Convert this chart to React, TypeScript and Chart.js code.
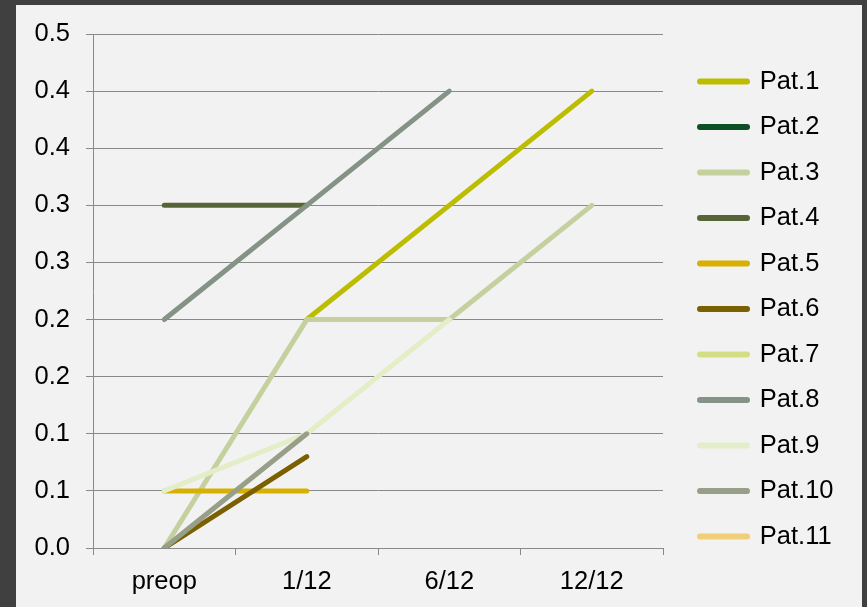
import React, { useEffect, useRef } from "react";
import { Chart, registerables } from "chart.js";

Chart.register(...registerables);

const categories = ["preop", "1/12", "6/12", "12/12"];

const seriesNames = ["Pat.1", "Pat.2", "Pat.3", "Pat.4", "Pat.5", "Pat.6", "Pat.7", "Pat.8", "Pat.9", "Pat.10", "Pat.11"];

const seriesColors = [
  "#bcbd00",
  "#0d4f25",
  "#c4d19f",
  "#566538",
  "#d8b000",
  "#7a6000",
  "#d6de85",
  "#849386",
  "#e3edc8",
  "#979f88",
  "#efcf7a",
];

const pat1 = [null, 0.2, 0.3, 0.4];
const pat2 = [null, null, null, null];
const pat3 = [0, 0.2, 0.2, 0.3];
const pat4 = [0.3, 0.3, null, null];
const pat5 = [0.05, 0.05, null, null];
const pat6 = [0, 0.08, null, null];
const pat7 = [null, null, null, null];
const pat8 = [0.2, 0.3, 0.4, null];
const pat9 = [0.05, 0.1, 0.2, null];
const pat10 = [0, 0.1, null, null];
const pat11 = [null, null, null, null];

const seriesValues = [pat1, pat2, pat3, pat4, pat5, pat6, pat7, pat8, pat9, pat10, pat11];

const yTickValues = [0, 0.05, 0.1, 0.15, 0.2, 0.25, 0.3, 0.35, 0.4, 0.45];
const yTickLabels = ["0.0", "0.1", "0.1", "0.2", "0.2", "0.3", "0.3", "0.4", "0.4", "0.5"];

const FONT = { family: "'Liberation Sans', Arial, sans-serif", size: 25.5 };
const GRID = "#898989";
const LEGEND_SHIFT = 17;

const shiftLegend = {
  id: "shiftLegend",
  afterLayout(chart: any) {
    const lg = chart.legend;
    if (lg) {
      lg.left += LEGEND_SHIFT;
      lg.right += LEGEND_SHIFT;
    }
  },
};

export default function App() {
  const ref = useRef<HTMLCanvasElement>(null);

  useEffect(() => {
    if (!ref.current) return;
    const n = seriesNames.length;
    const chart = new Chart(ref.current, {
      type: "line",
      data: {
        labels: categories,
        datasets: seriesNames.map((name, i) => ({
          label: name,
          data: seriesValues[i],
          borderColor: seriesColors[i],
          backgroundColor: seriesColors[i],
          borderWidth: 5,
          borderCapStyle: "round",
          borderJoinStyle: "round",
          pointRadius: 0,
          pointHoverRadius: 0,
          tension: 0,
          spanGaps: false,
          fill: false,
          order: n - i,
        })),
      },
      plugins: [shiftLegend],
      options: {
        animation: false,
        responsive: false,
        devicePixelRatio: 1,
        events: [],
        layout: { padding: { left: 0, top: 16, right: 35.5, bottom: 10 } },
        plugins: {
          tooltip: { enabled: false },
          legend: {
            position: "right",
            align: "center",
            labels: {
              usePointStyle: true,
              pointStyleWidth: 47,
              boxHeight: 6,
              padding: 20,
              color: "#000",
              font: FONT,
              generateLabels: (c: any) =>
                c.data.datasets.map((ds: any, i: number) => ({
                  text: ds.label,
                  fillStyle: ds.borderColor,
                  strokeStyle: ds.borderColor,
                  lineWidth: 6,
                  lineCap: "round",
                  pointStyle: "line",
                  hidden: false,
                  datasetIndex: i,
                  fontColor: "#000",
                })),
            },
          },
        },
        scales: {
          x: {
            type: "category",
            offset: true,
            grid: { offset: true, drawOnChartArea: false, drawTicks: true, tickLength: 7, color: GRID, lineWidth: 1 },
            border: { color: GRID, width: 1 },
            ticks: { padding: 12, color: "#000", font: FONT, maxRotation: 0, autoSkip: false },
            afterFit: (s: any) => {
              s.height = 49;
              s.paddingLeft = 0;
              s.paddingRight = 0;
            },
          },
          y: {
            type: "linear",
            min: 0,
            max: 0.45,
            afterBuildTicks: (s: any) => {
              s.ticks = yTickValues.map((v) => ({ value: v }));
            },
            ticks: {
              callback: (_v: any, i: number) => yTickLabels[i],
              padding: 16,
              color: "#000",
              font: FONT,
            },
            grid: { color: GRID, tickLength: 7, lineWidth: 1 },
            border: { color: GRID, width: 1 },
            afterFit: (s: any) => {
              s.width = 77;
              s.paddingTop = 29;
              s.paddingBottom = 0;
            },
          },
        },
      } as any,
    } as any);
    return () => chart.destroy();
  }, []);

  return (
    <div style={{ position: "fixed", left: 0, top: 0, width: 867, height: 607, background: "#404040" }}>
      <canvas
        ref={ref}
        width={846}
        height={602}
        style={{ position: "absolute", left: 16, top: 5, width: 846, height: 602, background: "#f2f2f2" }}
      />
    </div>
  );
}
